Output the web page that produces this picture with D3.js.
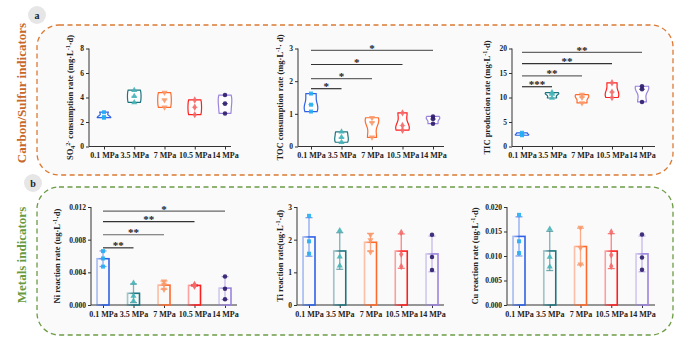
<!DOCTYPE html>
<html>
<head>
<meta charset="utf-8">
<script src="https://cdn.jsdelivr.net/npm/d3@7"></script>
<style>
  html, body { margin: 0; padding: 0; background: #fff; }
  svg { display: block; font-family: "Liberation Serif", "Times New Roman", serif; font-weight: bold; }
</style>
</head>
<body>
<div id="chart"></div>
<script>
// pressure groups (x categories)
const pressures = ['0.1 MPa', '3.5 MPa', '7 MPa', '10.5 MPa', '14 MPa'];

// replicate values per pressure
const so4Rates = [[2.8, 2.4, 2.35], [4.6, 4.1, 3.6], [4.4, 3.8, 3.2], [3.8, 3.2, 2.6], [4.2, 3.5, 2.7]];
const tocRates = [[1.62, 1.28, 1.07], [0.45, 0.28, 0.13], [0.88, 0.73, 0.28], [1.03, 0.64, 0.5], [0.92, 0.84, 0.7]];
const ticRates = [[2.8, 2.5, 2.3], [11.0, 10.7, 9.9], [10.6, 10.0, 8.9], [13.0, 11.1, 10.0], [12.3, 11.7, 9.1]];
const niRates = [[0.0066, 0.0057, 0.0047], [0.0027, 0.0011, 0.0005], [0.0029, 0.0025, 0.0019], [0.0025, 0.0024, 0.0023], [0.0035, 0.0020, 0.0007]];
const tiRates = [[2.73, 1.95, 1.57], [2.28, 1.48, 1.2], [2.15, 1.99, 1.62], [2.22, 1.55, 1.18], [2.15, 1.47, 1.07]];
const cuRates = [[0.0184, 0.0130, 0.0106], [0.0155, 0.0098, 0.0078], [0.0158, 0.0117, 0.0083], [0.0149, 0.0102, 0.0079], [0.0144, 0.0097, 0.0072]];

// y ticks
const so4Ticks = [0, 2, 4, 6, 8];
const tocTicks = [0, 1, 2, 3];
const ticTicks = [0, 5, 10, 15, 20];
const niTicks = [0, 0.004, 0.008, 0.012];
const tiTicks = [0, 1, 2, 3];
const cuTicks = [0, 0.005, 0.010, 0.015, 0.020];

// significance brackets: from group 0 to group `to`, at level y
const tocSig = [{ to: 1, y: 1.77, label: '*' }, { to: 2, y: 2.08, label: '*' }, { to: 3, y: 2.51, label: '*' }, { to: 4, y: 2.94, label: '*' }];
const ticSig = [{ to: 1, y: 12.2, label: '***' }, { to: 2, y: 14.4, label: '**' }, { to: 3, y: 16.9, label: '**' }, { to: 4, y: 19.2, label: '**' }];
const niSig = [{ to: 1, y: 0.0070, label: '**' }, { to: 2, y: 0.0086, label: '**' }, { to: 3, y: 0.0102, label: '**' }, { to: 4, y: 0.0115, label: '*' }];

const lineColors = ['#2f62e6', '#1d7580', '#ff6a2c', '#ff1f1f', '#9b83de'];
const dotColors = ['#25aef2', '#45b4b6', '#f89a6a', '#f26a6a', '#2b1b6b'];
const shapes = [d3.symbolSquare, d3.symbolTriangle, 'down', d3.symbolDiamond, d3.symbolCircle];

const W = 675, H = 339;
const svg = d3.select('#chart').append('svg')
  .attr('width', W).attr('height', H)
  .attr('role', 'img')
  .attr('aria-label', 'carbon/sulfur and metal reaction rates by pressure');

const defs = svg.append('defs');
lineColors.forEach((c, i) => {
  const g = defs.append('linearGradient').attr('id', `grad${i}`)
    .attr('x1', 0).attr('x2', 1).attr('y1', 0).attr('y2', 0);
  g.append('stop').attr('offset', '0%').attr('stop-color', c).attr('stop-opacity', 0.4);
  g.append('stop').attr('offset', '60%').attr('stop-color', c).attr('stop-opacity', 1);
});

// section frames
function frame(x, y, w, h, color) {
  svg.append('rect')
    .attr('x', x).attr('y', y).attr('width', w).attr('height', h)
    .attr('rx', 22).attr('ry', 22)
    .attr('fill', '#fafafa')
    .attr('stroke', color).attr('stroke-width', 1.3)
    .attr('stroke-dasharray', '5,3.5');
}
frame(37, 25, 636, 150, '#dc7a33');
frame(37, 187, 636, 148, '#6c9c45');

function badge(cx, cy, t) {
  svg.append('circle').attr('cx', cx).attr('cy', cy).attr('r', 9).attr('fill', '#e6e6e6');
  svg.append('text').attr('x', cx).attr('y', cy + 3.5).attr('text-anchor', 'middle')
    .attr('font-size', 10).attr('fill', '#222').text(t);
}
badge(37, 15, 'a');
badge(33, 183, 'b');

function sideLabel(x, y, t, color) {
  svg.append('text').attr('transform', `translate(${x},${y}) rotate(-90)`)
    .attr('text-anchor', 'middle').attr('font-size', 13).attr('fill', color).text(t);
}
sideLabel(26, 93, 'Carbon/Sulfur indicators', '#c8682a');
sideLabel(26, 255, 'Metals indicators', '#6a9a40');

// axis title with sub/superscript parts: [text, 'sub'|'sup'|null]
function axisTitle(g, x, y, parts) {
  const t = g.append('text').attr('transform', `translate(${x},${y}) rotate(-90)`)
    .attr('text-anchor', 'middle').attr('font-size', 8.5).attr('fill', '#222');
  let shift = 0;
  parts.forEach(([s, kind]) => {
    const target = kind === 'sub' ? 2 : kind === 'sup' ? -3.5 : 0;
    t.append('tspan').attr('dy', target - shift)
      .attr('font-size', kind ? 6 : 8.5).text(s);
    shift = target;
  });
}

function panel(cfg) {
  const g = svg.append('g');
  const x = d3.scalePoint().domain(pressures).range([cfg.first, cfg.last]);
  const y = d3.scaleLinear().domain(d3.extent(cfg.ticks)).range([cfg.bottom, cfg.top]);

  const yAxis = d3.axisLeft(y).tickValues(cfg.ticks).tickSize(3).tickPadding(2)
    .tickFormat(cfg.fmt ? d3.format(cfg.fmt) : d3.format('d'));
  const ga = g.append('g').attr('transform', `translate(${cfg.axisX},0)`).call(yAxis);
  ga.select('.domain').attr('d', `M0,${cfg.top}V${cfg.bottom}`);

  const xAxis = d3.axisBottom(x).tickSize(3).tickPadding(3);
  const gx = g.append('g').attr('transform', `translate(0,${cfg.bottom})`).call(xAxis);
  gx.select('.domain').attr('d', `M${cfg.axisX},0H${cfg.end}`);

  [ga, gx].forEach(a => {
    a.attr('font-family', null).attr('font-size', null);
    a.selectAll('text').attr('font-size', 7.5).attr('fill', '#222');
    a.selectAll('line, path').attr('stroke', '#333');
  });
  gx.selectAll('text').attr('font-size', 8);

  axisTitle(g, cfg.axisX - cfg.titleOff, (cfg.top + cfg.bottom) / 2, cfg.title);

  cfg.data.forEach((vals, i) => {
    const cx = x(pressures[i]);
    if (cfg.kind === 'violin') {
      const sd = d3.deviation(vals) || 0.001;
      const bw = 0.65 * 1.06 * sd * Math.pow(vals.length, -0.2);
      const lo = d3.min(vals), hi = d3.max(vals);
      const grid = d3.range(0, 31).map(k => lo + (hi - lo) * k / 30);
      const dens = grid.map(v => d3.sum(vals, p => Math.exp(-0.5 * ((v - p) / bw) ** 2)));
      const maxD = d3.max(dens);
      const pts = grid.map((v, k) => ({ v, w: 1.5 + 5.3 * dens[k] / maxD }));
      const area = d3.area().curve(d3.curveBasis)
        .y(d => y(d.v)).x0(d => cx - d.w).x1(d => cx + d.w);
      g.append('path').attr('d', area(pts))
        .attr('fill', '#fff').attr('fill-opacity', 0.8)
        .attr('stroke', lineColors[i]).attr('stroke-width', 1.2);
      const med = d3.median(vals);
      g.append('line').attr('x1', cx - 3).attr('x2', cx + 3)
        .attr('y1', y(med)).attr('y2', y(med))
        .attr('stroke', dotColors[i]).attr('stroke-width', 0.8).attr('stroke-opacity', 0.7);
    } else {
      const m = d3.mean(vals), sd = d3.deviation(vals);
      const bw = 12;
      g.append('line').attr('x1', cx).attr('x2', cx)
        .attr('y1', y(m + sd)).attr('y2', y(Math.max(0, m - sd)))
        .attr('stroke', lineColors[i]).attr('stroke-opacity', 0.55).attr('stroke-width', 1.3);
      [m + sd, Math.max(0, m - sd)].forEach(v => {
        g.append('line').attr('x1', cx - 3.5).attr('x2', cx + 3.5)
          .attr('y1', y(v)).attr('y2', y(v))
          .attr('stroke', lineColors[i]).attr('stroke-opacity', 0.6).attr('stroke-width', 1.3);
      });
      g.append('rect').attr('x', cx - bw / 2).attr('y', y(m))
        .attr('width', bw).attr('height', y(0) - y(m))
        .attr('fill', 'none').attr('stroke', `url(#grad${i})`).attr('stroke-width', 1.6);
    }
    vals.forEach(v => {
      const shp = shapes[i];
      const sym = d3.symbol().type(shp === 'down' ? d3.symbolTriangle : shp).size(16);
      g.append('path').attr('d', sym())
        .attr('transform', `translate(${cx},${y(v)})${shp === 'down' ? ' rotate(180)' : ''}`)
        .attr('fill', dotColors[i]).attr('fill-opacity', 0.9);
    });
  });

  (cfg.sig || []).forEach((s, k) => {
    const x1 = x(pressures[0]), x2 = x(pressures[s.to]);
    g.append('line').attr('x1', x1).attr('x2', x2)
      .attr('y1', y(s.y)).attr('y2', y(s.y))
      .attr('stroke', k % 2 ? '#666' : '#333').attr('stroke-width', 1.2);
    g.append('text').attr('x', (x1 + x2) / 2).attr('y', y(s.y) + 1.5)
      .attr('text-anchor', 'middle').attr('font-size', 11).attr('fill', '#222').text(s.label);
  });
}

const topRow = { top: 48.5, bottom: 146.5 };
const botRow = { top: 207, bottom: 305 };

panel({ ...topRow, kind: 'violin', data: so4Rates, ticks: so4Ticks, axisX: 89, first: 104, last: 225, end: 231, titleOff: 16,
  title: [['SO', null], ['4', 'sub'], ['2-', 'sup'], [' consumption rate (mg·L', null], ['-1', 'sup'], ['·d)', null]] });
panel({ ...topRow, kind: 'violin', data: tocRates, ticks: tocTicks, axisX: 298, first: 311, last: 433, end: 444, titleOff: 15, sig: tocSig,
  title: [['TOC consumption rate (mg·L', null], ['-1', 'sup'], ['· d)', null]] });
panel({ ...topRow, kind: 'violin', data: ticRates, ticks: ticTicks, axisX: 512, first: 522, last: 642, end: 655, titleOff: 22, sig: ticSig,
  title: [['TIC production rate (mg·L', null], ['-1', 'sup'], ['·d)', null]] });
panel({ ...botRow, kind: 'bar', data: niRates, ticks: niTicks, fmt: '.3f', axisX: 91, first: 103, last: 225, end: 237, titleOff: 31, sig: niSig,
  title: [['Ni  reaction rate (ug·L', null], ['-1', 'sup'], ['·d)', null]] });
panel({ ...botRow, kind: 'bar', data: tiRates, ticks: tiTicks, axisX: 297, first: 309, last: 432, end: 444, titleOff: 14,
  title: [['Ti  reaction rate(ug·L', null], ['-1', 'sup'], ['·d)', null]] });
panel({ ...botRow, kind: 'bar', data: cuRates, ticks: cuTicks, fmt: '.3f', axisX: 507, first: 519, last: 642, end: 655, titleOff: 29,
  title: [['Cu  reaction rate (ug·L', null], ['-1', 'sup'], ['·d)', null]] });
</script>
</body>
</html>
